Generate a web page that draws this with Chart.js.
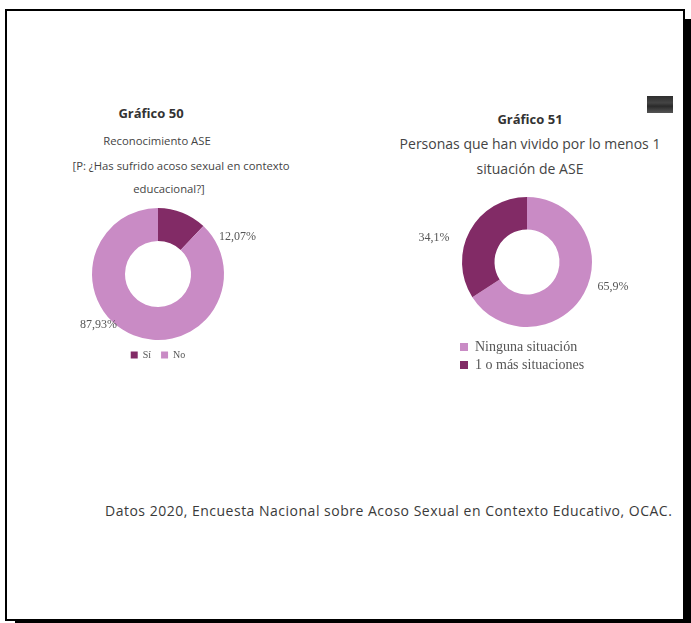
<!DOCTYPE html>
<html>
<head>
<meta charset="utf-8">
<script src="https://cdn.jsdelivr.net/npm/chart.js@4/dist/chart.umd.min.js"></script>
<style>
  html, body { margin:0; padding:0; background:#fff; }
  body { width:691px; height:623px; position:relative; overflow:hidden; }
  #frame { position:absolute; left:5px; top:9px; width:680px; height:612px; box-sizing:border-box;
           border:2px solid #000; box-shadow:10px 10px 0 #000; background:#fff; }
  .t { position:absolute; white-space:nowrap; transform:translate(-50%,-50%); color:#444;
       font-family:"Open Sans", sans-serif; }
  .b { font-weight:bold; color:#333; }
  canvas { position:absolute; }
  #icon { position:absolute; left:647px; top:96px; width:26px; height:17px;
          background:linear-gradient(180deg,#2e2e2e 0,#444 40%,#2a2a2a 60%,#555 100%); }
  #foot { position:absolute; left:105px; top:510px; transform:translateY(-50%); white-space:nowrap;
          font-family:"Open Sans", sans-serif; font-size:14px; letter-spacing:0.5px; color:#3a3a3a; }
</style>
</head>
<body>
<div id="frame"></div>

<div class="t b" style="left:151px;top:113px;font-size:13px;">Gráfico 50</div>
<div class="t" style="left:157px;top:140px;font-size:11.3px;">Reconocimiento ASE</div>
<div class="t" style="left:181px;top:165px;font-size:11.3px;">[P: ¿Has sufrido acoso sexual en contexto</div>
<div class="t" style="left:169px;top:188px;font-size:11.3px;">educacional?]</div>

<div class="t b" style="left:530px;top:119px;font-size:13px;">Gráfico 51</div>
<div class="t" style="left:530px;top:143px;font-size:14px;">Personas que han vivido por lo menos 1</div>
<div class="t" style="left:530px;top:168px;font-size:14px;">situación de ASE</div>
<div id="icon"></div>

<canvas id="c1" width="200" height="170" style="left:58px;top:200px;width:200px;height:170px;"></canvas>
<canvas id="c2" width="230" height="194" style="left:402px;top:188px;width:230px;height:194px;"></canvas>

<div id="foot">Datos 2020, Encuesta Nacional sobre Acoso Sexual en Contexto Educativo, OCAC.</div>

<script>
// ---- data ----
const labels50 = ['Sí', 'No'];
const values50 = [12.07, 87.93];
const pctText50 = ['12,07%', '87,93%'];

const labels51 = ['Ninguna situación', '1 o más situaciones'];
const values51 = [65.9, 34.1];
const pctText51 = ['65,9%', '34,1%'];

const DARK = '#822b66';
const LIGHT = '#c98bc5';

function labelPlugin(texts, offsets) {
  return {
    id: 'pctLabels',
    afterDatasetsDraw(chart) {
      const ctx = chart.ctx;
      const meta = chart.getDatasetMeta(0);
      ctx.save();
      ctx.font = '12px "Liberation Serif", serif';
      ctx.fillStyle = '#555';
      ctx.textAlign = 'center';
      ctx.textBaseline = 'middle';
      meta.data.forEach((arc, i) => {
        const p = arc.getProps(['x','y','startAngle','endAngle','outerRadius'], true);
        const mid = (p.startAngle + p.endAngle) / 2;
        const ax = p.x + Math.cos(mid) * p.outerRadius;
        const ay = p.y + Math.sin(mid) * p.outerRadius;
        ctx.fillText(texts[i], ax + offsets[i][0], ay + offsets[i][1]);
      });
      ctx.restore();
    }
  };
}

new Chart(document.getElementById('c1'), {
  type: 'doughnut',
  data: { labels: labels50, datasets: [{ data: values50, backgroundColor: [DARK, LIGHT],
          borderWidth: 0, radius: 66, cutout: '50%' }] },
  options: {
    responsive: false, animation: false, events: [],
    layout: { padding: { top: 8, left: 0, right: 0, bottom: 0 } },
    plugins: {
      tooltip: { enabled: false },
      legend: { position: 'bottom', align: 'center',
        labels: { boxWidth: 7, boxHeight: 7, padding: 10, color: '#555',
                  font: { family: '"Liberation Serif", serif', size: 10 } } }
    }
  },
  plugins: [labelPlugin(pctText50, [[55, 24], [-35, -10]])]
});

new Chart(document.getElementById('c2'), {
  type: 'doughnut',
  data: { labels: labels51, datasets: [{ data: values51, backgroundColor: [LIGHT, DARK],
          borderWidth: 0, radius: 65, cutout: '50%' }] },
  options: {
    responsive: false, animation: false, events: [],
    layout: { padding: { top: 0, left: 54, right: 34, bottom: 0 } },
    plugins: {
      tooltip: { enabled: false },
      legend: { position: 'bottom', align: 'start',
        labels: { boxWidth: 8, boxHeight: 8, padding: 4, color: '#555',
                  font: { family: '"Liberation Serif", serif', size: 14 } } }
    }
  },
  plugins: [labelPlugin(pctText51, [[29, -6], [-36, 7]])]
});
</script>
</body>
</html>
